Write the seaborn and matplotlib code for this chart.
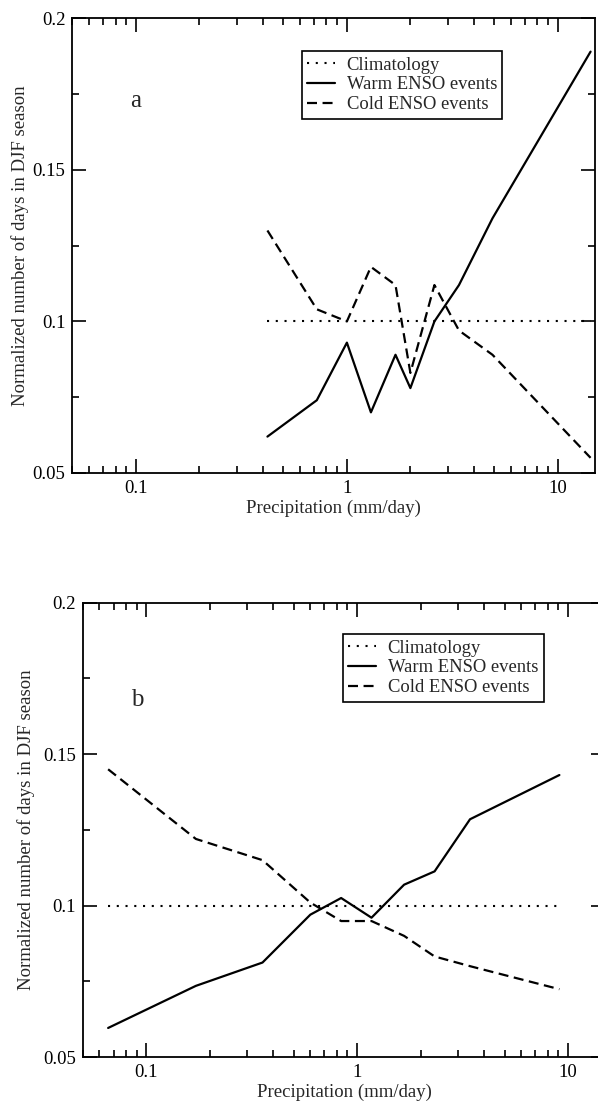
import numpy as np
import pandas as pd
import matplotlib
matplotlib.use('Agg')
import matplotlib.pyplot as plt
import seaborn as sns
from matplotlib.ticker import FixedLocator, FixedFormatter, LogLocator, NullFormatter

# Panel a: precipitation bins and normalized day counts
precip_a = [0.42, 0.72, 1.0, 1.3, 1.7, 2.0, 2.6, 3.4, 4.9, 14.3]
clim_a = [0.1] * len(precip_a)
warm_a = [0.062, 0.074, 0.093, 0.070, 0.089, 0.078, 0.100, 0.112, 0.134, 0.189]
cold_a = [0.130, 0.104, 0.100, 0.118, 0.112, 0.083, 0.112, 0.097, 0.089, 0.055]

# Panel b
precip_b = [0.066, 0.172, 0.356, 0.60, 0.84, 1.17, 1.67, 2.33, 3.43, 9.1]
clim_b = [0.1] * len(precip_b)
warm_b = [0.0596, 0.0735, 0.0812, 0.097, 0.1025, 0.096, 0.1069, 0.1113, 0.1285, 0.1431]
cold_b = [0.145, 0.122, 0.115, 0.101, 0.0949, 0.0949, 0.090, 0.0832, 0.080, 0.0724]

x_ticks = [0.1, 1, 10]
x_ticklabels = ['0.1', '1', '10']
y_ticks = [0.05, 0.1, 0.15, 0.2]
y_ticklabels = ['0.05', '0.1', '0.15', '0.2']

sns.set_theme(style='ticks')
plt.rcParams['font.family'] = ['Liberation Serif', 'DejaVu Serif']
plt.rcParams['axes.linewidth'] = 1.3

fig = plt.figure(figsize=(5.98, 11.02), dpi=100)
ax1 = fig.add_axes([0.1212, 0.5708, 0.8737, 0.4126])
ax2 = fig.add_axes([0.1383, 0.0408, 0.8737, 0.4123])


def draw_panel(ax, precip, clim, warm, cold, letter, letter_xy, leg_xy, ylab_x):
    df = pd.DataFrame({'precip': precip, 'clim': clim, 'warm': warm, 'cold': cold})
    sns.lineplot(data=df, x='precip', y='clim', ax=ax, color='black', lw=1.5,
                 linestyle=(0, (1, 3.2)), label='Climatology')
    sns.lineplot(data=df, x='precip', y='warm', ax=ax, color='black', lw=1.6,
                 linestyle='-', label='Warm ENSO events')
    sns.lineplot(data=df, x='precip', y='cold', ax=ax, color='black', lw=1.6,
                 linestyle=(0, (4.5, 2.5)), label='Cold ENSO events')

    ax.set_xscale('log')
    ax.set_xlim(0.05, 15)
    ax.set_ylim(0.05, 0.2)
    ax.xaxis.set_major_locator(FixedLocator(x_ticks))
    ax.xaxis.set_major_formatter(FixedFormatter(x_ticklabels))
    ax.xaxis.set_minor_locator(LogLocator(base=10, subs=np.arange(2, 10)))
    ax.xaxis.set_minor_formatter(NullFormatter())
    ax.yaxis.set_major_locator(FixedLocator(y_ticks))
    ax.yaxis.set_major_formatter(FixedFormatter(y_ticklabels))
    ax.yaxis.set_minor_locator(FixedLocator([0.075, 0.125, 0.175]))

    ax.tick_params(which='both', direction='in', top=True, right=True,
                   colors='black', labelsize=13.5, width=1.2, pad=5)
    ax.tick_params(which='major', length=10)
    ax.tick_params(which='minor', length=5)
    for s in ax.spines.values():
        s.set_color('black')

    ax.set_xlabel('Precipitation (mm/day)', fontsize=13.5, labelpad=2)
    ax.set_ylabel('Normalized number of days in DJF season', fontsize=13.5)
    ax.yaxis.set_label_coords(ylab_x, 0.5)

    ax.text(letter_xy[0], letter_xy[1], letter, transform=ax.transAxes,
            fontsize=18, ha='center', va='baseline')

    leg = ax.legend(loc='upper left', bbox_to_anchor=leg_xy, fontsize=13.4,
                    frameon=True, fancybox=False, framealpha=1,
                    edgecolor='black', handlelength=1.5, handletextpad=0.6,
                    labelspacing=0.15, borderpad=0.3, borderaxespad=0)
    leg.get_frame().set_linewidth(1.2)


draw_panel(ax1, precip_a, clim_a, warm_a, cold_a, 'a', (0.1212, 0.804), (0.439, 0.928), -0.083)
draw_panel(ax2, precip_b, clim_b, warm_b, cold_b, 'b', (0.104, 0.7726), (0.498, 0.931), -0.091)

fig.savefig('out.png', dpi=100)
